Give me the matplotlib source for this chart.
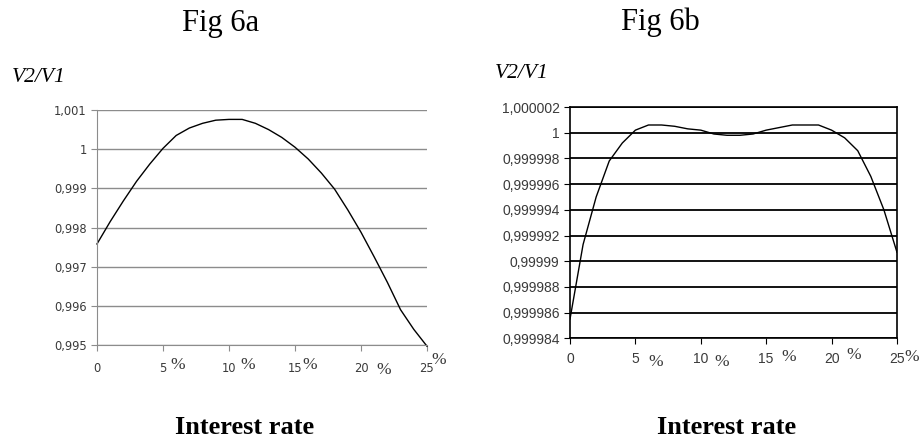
import numpy as np
import matplotlib
matplotlib.use("Agg")
import matplotlib.pyplot as plt

# Fig 6a : V2/V1 vs interest rate (%)
rate = list(range(0, 26))
ratio_a = [0.99758, 0.99815, 0.99868, 0.99918, 0.99962, 1.00002, 1.00035, 1.00054,
           1.00066, 1.00074, 1.00076, 1.00076, 1.00066, 1.00050, 1.00030, 1.00005,
           0.99975, 0.99939, 0.99898, 0.99845, 0.99788, 0.99725, 0.99660, 0.99590,
           0.99540, 0.99497]
yticks_a = [0.995, 0.996, 0.997, 0.998, 0.999, 1.0, 1.001]
ylabels_a = ["0,995", "0,996", "0,997", "0,998", "0,999", "1", "1,001"]
xlabels_a = ["0", "5", "10", "15", "20", "25"]

# Fig 6b
ratio_b = [0.9999855, 0.9999913, 0.9999950, 0.9999978, 0.9999992, 1.0000002,
           1.0000006, 1.0000006, 1.0000005, 1.0000003, 1.0000002, 0.9999999,
           0.9999998, 0.9999998, 0.9999999, 1.0000002, 1.0000004, 1.0000006,
           1.0000006, 1.0000006, 1.0000002, 0.9999996, 0.9999986, 0.9999966,
           0.9999940, 0.9999907]
yticks_b = [0.999984, 0.999986, 0.999988, 0.99999, 0.999992, 0.999994,
            0.999996, 0.999998, 1.0, 1.000002]
ylabels_b = ["0,999984", "0,999986", "0,999988", "0,99999", "0,999992", "0,999994",
             "0,999996", "0,999998", "1", "1,000002"]
xlabels_b = ["0", "5", "10", "15", "20", "25"]
xticks = [0, 5, 10, 15, 20, 25]

fig = plt.figure(figsize=(9.21, 4.4), dpi=100)

serif = "Liberation Serif"
tickcol = "#3a3a3a"

# ---------- left panel ----------
ax1 = fig.add_axes([0.1053, 0.2159, 0.3583, 0.5341])
ax1.plot(rate, ratio_a, color="black", lw=1.0, clip_on=False)
ax1.set_xlim(0, 25)
ax1.set_ylim(0.995, 1.001)
ax1.set_yticks(yticks_a)
ax1.set_yticklabels(ylabels_a)
ax1.set_xticks(xticks)
ax1.set_xticklabels(xlabels_a)
ax1.yaxis.grid(True, color="#8c8c8c", lw=1.0)
ax1.set_axisbelow(True)
for s in ["top", "right"]:
    ax1.spines[s].set_visible(False)
for s in ["left", "bottom"]:
    ax1.spines[s].set_color("#8c8c8c")
ax1.tick_params(axis="both", colors="#8c8c8c", labelcolor=tickcol, labelsize=8.3,
                length=4, direction="out")
ax1.tick_params(axis="x", pad=8)
for lab in ax1.get_xticklabels() + ax1.get_yticklabels():
    lab.set_family("DejaVu Sans")
tr1 = ax1.get_xaxis_transform()
pct_xa = [6.1, 11.4, 16.1, 21.7, 25.9]
pct_ya = [-0.085, -0.085, -0.085, -0.106, -0.064]
for px, py in zip(pct_xa, pct_ya):
    ax1.text(px, py, "%", transform=tr1, family=serif, fontsize=12.5,
             ha="center", va="center", color=tickcol)

# ---------- right panel ----------
ax2 = fig.add_axes([0.6189, 0.2311, 0.3550, 0.5257])
ax2.plot(rate, ratio_b, color="black", lw=1.0)
ax2.set_xlim(0, 25)
ax2.set_ylim(0.999984, 1.000002)
ax2.set_yticks(yticks_b)
ax2.set_yticklabels(ylabels_b)
ax2.set_xticks(xticks)
ax2.set_xticklabels(xlabels_b)
ax2.yaxis.grid(True, color="black", lw=1.3)
ax2.set_axisbelow(True)
for s in ax2.spines.values():
    s.set_color("black")
    s.set_linewidth(1.2)
ax2.tick_params(axis="both", colors="black", labelcolor=tickcol, labelsize=10,
                length=4, direction="out")
ax2.tick_params(axis="x", pad=6)
for lab in ax2.get_xticklabels() + ax2.get_yticklabels():
    lab.set_family("Liberation Sans")
tr2 = ax2.get_xaxis_transform()
pct_x = [6.57, 11.6, 16.7, 21.7, 26.1]
pct_y = [-0.102, -0.102, -0.081, -0.072, -0.081]
for px, py in zip(pct_x, pct_y):
    ax2.text(px, py, "%", transform=tr2, family=serif, fontsize=12.5,
             ha="center", va="center", color=tickcol)

# ---------- titles and labels ----------
fig.text(221 / 921, 1 - 24 / 440, "Fig 6a", family=serif, fontsize=22,
         ha="center", va="center")
fig.text(660 / 921, 1 - 22 / 440, "Fig 6b", family=serif, fontsize=22,
         ha="center", va="center")
fig.text(12 / 921, 1 - 78 / 440, "V2/V1", family=serif, style="italic",
         fontsize=15.5, ha="left", va="center")
fig.text(495 / 921, 1 - 73 / 440, "V2/V1", family=serif, style="italic",
         fontsize=15.5, ha="left", va="center")
fig.text(245 / 921, 1 - 427 / 440, "Interest rate", family=serif,
         fontweight="bold", fontsize=19, ha="center", va="center")
fig.text(727 / 921, 1 - 427 / 440, "Interest rate", family=serif,
         fontweight="bold", fontsize=19, ha="center", va="center")

fig.savefig("out.png", dpi=100)
